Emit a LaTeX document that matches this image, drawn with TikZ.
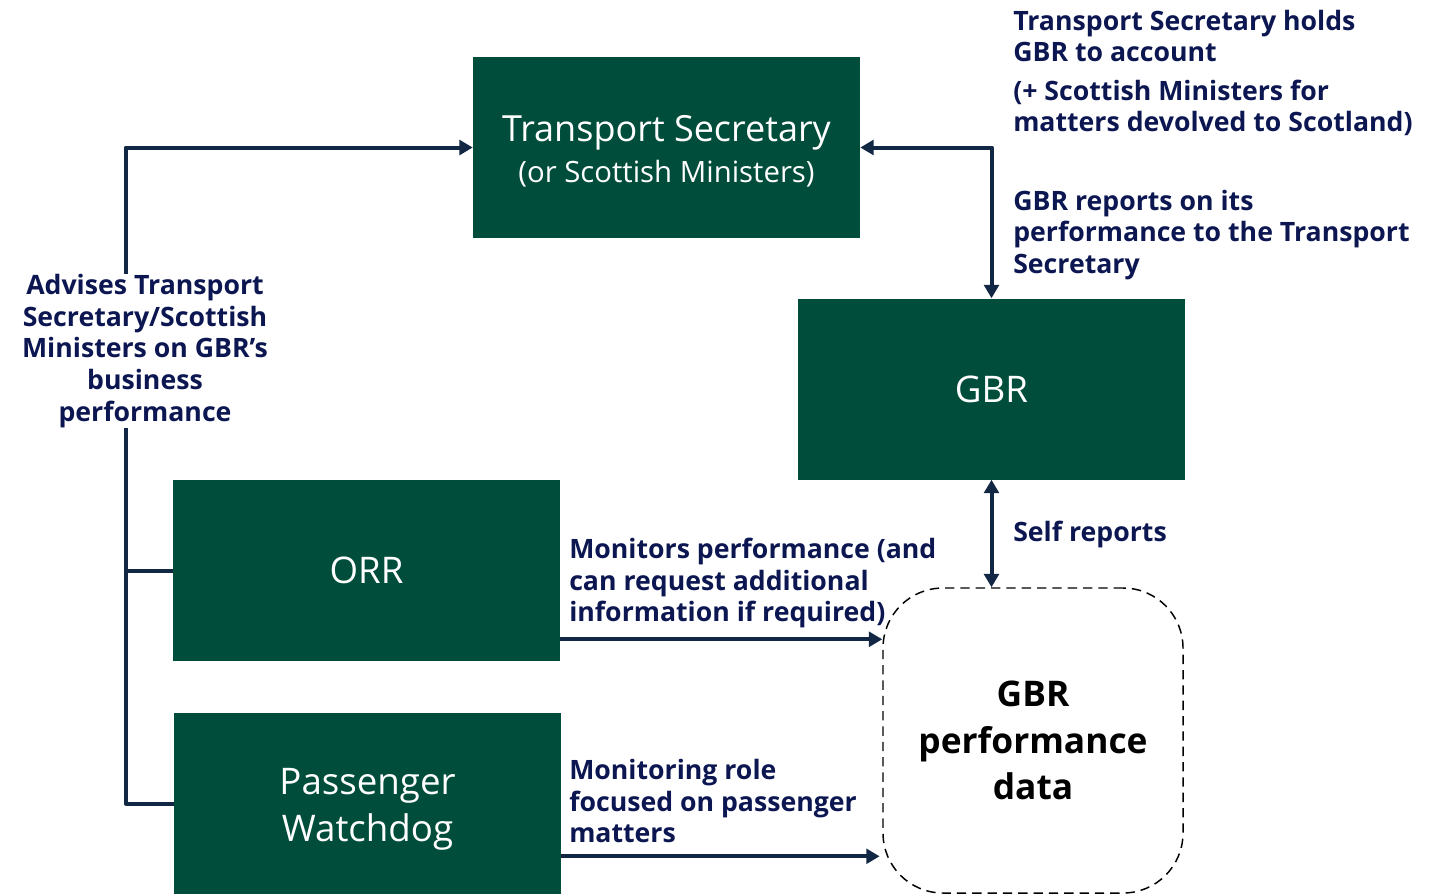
\documentclass[tikz,border=0pt]{standalone}
\usepackage{fontspec}
\setmainfont{Open Sans}
\usetikzlibrary{arrows.meta}
\definecolor{boxgreen}{HTML}{004D3B}
\definecolor{linknavy}{HTML}{112743}
\definecolor{labelnavy}{HTML}{0C1752}
\begin{document}
\begin{tikzpicture}[x=0.75pt,y=-0.75pt,
  panel/.style={fill=boxgreen, draw=none, text=white, align=center, inner sep=0,
    minimum width=290.25pt, minimum height=135.75pt,
    font=\fontsize{27.5}{35.5}\selectfont},
  caption/.style={text=white, align=center, inner sep=0,
    font=\fontsize{27.5}{35.5}\selectfont},
  wire/.style={draw=linknavy, line width=3pt, line join=round},
  link/.style={wire, -{Triangle[length=10pt,width=11pt]}},
  both/.style={wire, {Triangle[length=10pt,width=11pt]}-{Triangle[length=10pt,width=11pt]}},
  note/.style={text=labelnavy, font=\bfseries\fontsize{20}{23.8}\selectfont,
    align=left, inner sep=0, anchor=west},
]
\useasboundingbox (0,0) rectangle (1437,894);

% boxes
\node[panel] (ts) at (666.5,147.5) {};
\node[caption] (tstext) at (666.5,151.5)
  {{\fontsize{27}{30}\selectfont Transport Secretary}\\[-4.5pt]{\fontsize{22}{26}\selectfont(or Scottish Ministers)}};
\node[panel] (gbr) at (991.5,389) {GBR};
\node[panel] (orr) at (366.5,570.5) {ORR};
\node[panel] (pw) at (367.5,803.5) {};
\node[caption] (pwtext) at (367.5,809) {Passenger\\Watchdog};
\node[draw=black, dash pattern=on 7pt off 4.5pt, line width=1.1pt, rounded corners=45pt, inner sep=0,
      minimum width=225pt, minimum height=228.75pt, align=center,
      font=\bfseries\fontsize{26.5}{35}\selectfont] (data) at (1033,740.5)
      {GBR\\performance\\data};

% connectors
\draw[link] (pw.west) -- ++(-48,0) |- (ts.west);
\draw[wire] (orr.west) -- ++(-47.5,0);
\draw[both] (ts.east) -| (gbr.north);
\draw[both] (gbr.south) -- (gbr.south |- data.north);
\coordinate (orrout) at ([yshift=16.5pt]orr.south east);
\draw[link] (orrout) -- (orrout -| data.west);
\coordinate (pwout) at ([yshift=28.5pt]pw.south east);
\draw[link] (pwout) -- ([xshift=-2pt]pwout -| data.west);

% labels
\node[note, fill=white, align=center, anchor=center] (advise) at (145,351)
  {Advises Transport\\Secretary/Scottish\\Ministers on GBR’s\\business\\performance};
\node[note] (holds) at (1013,36) {Transport Secretary holds\\GBR to account};
\node[note] (scot) at (1013,108) {(+ Scottish Ministers for\\matters devolved to Scotland)};
\node[note] (reports) at (1013,235) {GBR reports on its\\performance to the Transport\\Secretary};
\node[note] (self) at (1013,534) {Self reports};
\node[note] (monitors) at (569,583) {Monitors performance (and\\can request additional\\information if required)};
\node[note] (role) at (569,801) {Monitoring role\\focused on passenger\\matters};
\end{tikzpicture}
\end{document}
